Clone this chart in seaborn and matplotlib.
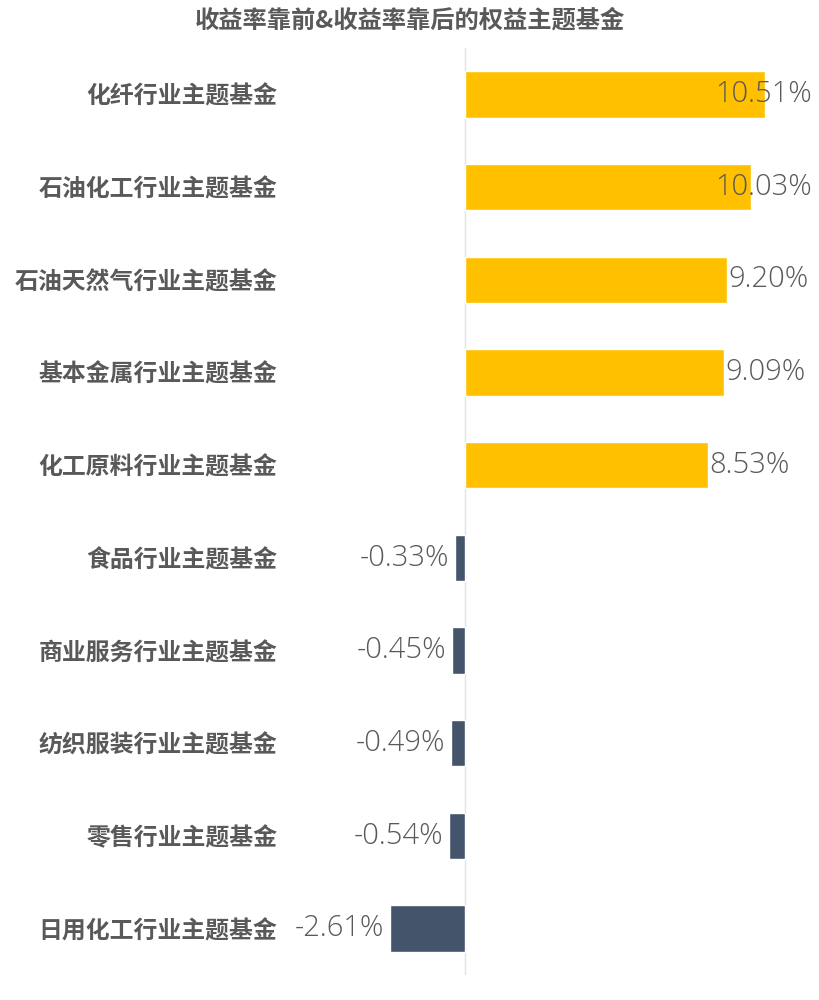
import matplotlib
matplotlib.use("Agg")
import matplotlib.pyplot as plt
import seaborn as sns
import pandas as pd

# 数据
funds = ["化纤行业主题基金", "石油化工行业主题基金", "石油天然气行业主题基金",
         "基本金属行业主题基金", "化工原料行业主题基金", "食品行业主题基金",
         "商业服务行业主题基金", "纺织服装行业主题基金", "零售行业主题基金",
         "日用化工行业主题基金"]
returns = [10.51, 10.03, 9.20, 9.09, 8.53, -0.33, -0.45, -0.49, -0.54, -2.61]
labels = ["10.51%", "10.03%", "9.20%", "9.09%", "8.53%",
          "-0.33%", "-0.45%", "-0.49%", "-0.54%", "-2.61%"]

df = pd.DataFrame({"基金": funds, "收益率": returns})
df["组"] = ["前" if v > 0 else "后" for v in returns]

sns.set_style("white")
plt.rcParams['font.family'] = ['Noto Sans CJK SC', 'DejaVu Sans']

fig = plt.figure(figsize=(8.2, 10), dpi=100)
ax = fig.add_axes([0.35, 0.025, 0.64, 0.927])

sns.barplot(data=df, x="收益率", y="基金", hue="组", orient="h",
            palette={"前": "#FFC000", "后": "#44546A"}, width=0.5,
            saturation=1, dodge=False, legend=False, ax=ax)

xmin, xmax = -6.23, 12.16
ax.set_xlim(xmin, xmax)
ax.set_ylim(9.5, -0.5)
ax.axvline(0, color="#E3E3E3", lw=1, zorder=0)

for s in ax.spines.values():
    s.set_visible(False)
ax.set_xticks([])
ax.set_xlabel("")
ax.set_ylabel("")
ax.tick_params(axis="y", length=0, pad=7)
for t in ax.get_yticklabels():
    t.set_fontsize(17.2)
    t.set_fontweight("bold")
    t.set_color("#595959")

# 数据标签
fig.canvas.draw()
r = fig.canvas.get_renderer()
ax_right = ax.get_window_extent(r).x1
for i, (v, lab) in enumerate(zip(returns, labels)):
    if v >= 0:
        t = ax.text(v + 0.03, i, lab, ha="left", va="center", fontsize=21,
                    color="#595959", fontweight="light", family=["Open Sans", "DejaVu Sans"])
        if t.get_window_extent(r).x1 > ax_right:
            t.set_x(xmax)
            t.set_ha("right")
    else:
        ax.text(v - 0.2, i, lab, ha="right", va="center", fontsize=21,
                color="#595959", fontweight="light", family=["Open Sans", "DejaVu Sans"])

fig.text(0.5, 0.979, "收益率靠前&收益率靠后的权益主题基金", ha="center", va="center",
         fontsize=17.5, fontweight="bold", color="#595959")

fig.savefig("out.png", dpi=100)
